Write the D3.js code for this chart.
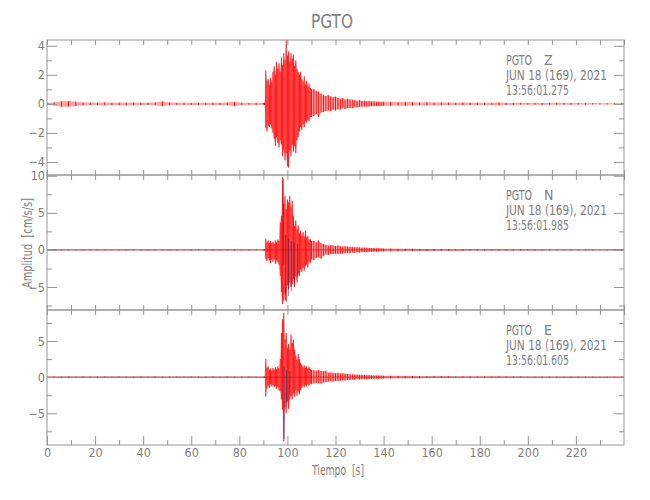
<!DOCTYPE html>
<html><head><meta charset="utf-8">
<script src="https://cdn.jsdelivr.net/npm/d3@7"></script>
<style>body{margin:0;background:#fff}</style></head>
<body>
<svg id="c" width="650" height="500"></svg>
<script>
// ---- data ----
const station = "PGTO";
const dateLabel = "JUN 18 (169), 2021";
const components = ["Z", "N", "E"];
const startTimes = ["13:56:01.275", "13:56:01.985", "13:56:01.605"];

const times = [
  0,3,6,9,12,15,18,21,24,27,30,33,36,39,42,45,48,51,54,57,60,63,66,69,72,75,78,81,84,87,90,
  90.5,91,91.5,92,92.5,93,93.5,94,94.5,95,95.5,96,96.5,97,97.5,98,98.5,99,99.5,100,
  100.5,101,101.5,102,102.5,103,103.5,104,104.5,105,105.5,106,106.5,107,107.5,108,108.5,109,109.5,110,
  111,112,113,114,115,116,117,118,119,120,121,122,123,124,125,126,127,128,129,130,
  131,132,133,134,135,136,137,138,139,140,
  143,146,149,152,155,158,161,164,167,170,173,176,179,182,185,188,191,194,197,200,
  203,206,209,212,215,218,221,224,227,230,233,236,239,240
];

const zMax = [
  .08,.1,.18,.2,.15,.1,.09,.08,.1,.08,.09,.08,.1,.07,.08,.1,.17,.09,.07,.08,.07,.08,.07,.08,.07,.09,.14,.08,.06,.07,.06,
  .08,2.3,1.6,1.7,1.3,1.8,1.5,2.2,2.6,2.0,2.9,2.4,2.8,2.2,3.2,2.7,3.5,3.0,4.4,3.3,
  3.6,2.9,3.5,3.1,3.4,2.6,3.0,2.4,2.2,2.0,2.2,1.7,1.5,1.9,1.3,1.6,1.2,1.4,1.1,1.0,
  1.0,0.9,0.85,0.7,0.6,0.55,0.6,0.5,0.45,0.5,0.4,0.35,0.4,0.3,0.35,0.3,0.28,0.25,0.22,0.25,
  0.2,0.22,0.18,0.2,0.17,0.18,0.15,0.16,0.14,0.15,
  .14,.12,.14,.12,.1,.11,.09,.1,.09,.08,.09,.08,.07,.08,.07,.1,.07,.06,.07,.06,
  .07,.06,.06,.07,.06,.06,.06,.05,.06,.05,.05,.05,.05,.05
];
const zMin = [
  -.08,-.11,-.2,-.19,-.14,-.1,-.08,-.09,-.1,-.08,-.09,-.09,-.1,-.08,-.08,-.1,-.16,-.09,-.07,-.08,-.08,-.08,-.07,-.08,-.07,-.09,-.15,-.08,-.06,-.07,-.06,
  -.08,-1.65,-1.9,-1.5,-1.6,-1.4,-1.7,-2.0,-2.4,-2.9,-2.3,-2.7,-3.0,-2.5,-2.8,-3.6,-3.2,-3.9,-3.4,-4.3,
  -4.4,-3.2,-3.6,-2.8,-3.3,-2.9,-3.4,-2.5,-2.3,-1.9,-1.6,-1.8,-1.4,-1.6,-1.2,-1.3,-1.1,-1.2,-0.9,-0.9,
  -0.85,-0.7,-0.9,-0.6,-0.55,-0.5,-0.45,-0.5,-0.4,-0.45,-0.35,-0.4,-0.3,-0.35,-0.3,-0.28,-0.3,-0.22,-0.25,-0.2,
  -0.2,-0.18,-0.2,-0.18,-0.16,-0.17,-0.15,-0.14,-0.15,-0.13,
  -.13,-.12,-.13,-.11,-.1,-.1,-.1,-.09,-.08,-.09,-.08,-.08,-.08,-.07,-.07,-.1,-.07,-.07,-.06,-.06,
  -.06,-.07,-.06,-.06,-.06,-.06,-.05,-.06,-.05,-.05,-.05,-.05,-.05,-.05
];

const nMax = [
  .06,.07,.06,.07,.06,.06,.07,.06,.06,.07,.06,.06,.07,.06,.06,.07,.06,.06,.07,.06,.06,.07,.06,.06,.07,.06,.07,.06,.06,.07,.06,
  .08,1.5,1.0,1.3,0.9,1.2,0.9,1.1,0.8,1.3,1.0,1.4,1.2,3.7,4.6,9.8,6.2,7.3,5.5,6.8,
  6.4,7.3,5.8,6.6,4.6,3.2,4.0,2.8,3.3,2.2,2.6,1.9,2.4,1.8,2.6,1.7,1.9,1.3,1.5,1.2,
  1.2,1.0,1.3,0.9,0.8,0.7,0.6,0.65,0.6,0.55,0.6,0.5,0.45,0.5,0.45,0.4,0.4,0.35,0.38,0.33,
  0.3,0.32,0.28,0.27,0.25,0.26,0.23,0.22,0.21,0.2,
  .19,.17,.16,.15,.14,.13,.12,.11,.11,.1,.1,.09,.09,.08,.08,.08,.08,.07,.07,.07,
  .07,.06,.07,.06,.06,.06,.06,.06,.06,.06,.06,.06,.06,.06
];
const nMin = [
  -.06,-.06,-.07,-.06,-.06,-.07,-.06,-.06,-.07,-.06,-.06,-.07,-.06,-.06,-.07,-.06,-.06,-.07,-.06,-.06,-.07,-.06,-.06,-.07,-.06,-.06,-.07,-.06,-.07,-.06,-.06,
  -.08,-1.2,-1.5,-1.1,-1.4,-1.8,-1.3,-1.6,-1.2,-1.9,-1.4,-1.7,-2.0,-3.5,-5.7,-7.3,-6.8,-5.8,-7.0,-4.8,
  -5.3,-4.4,-5.0,-4.6,-3.9,-5.0,-3.6,-4.4,-3.2,-3.5,-2.6,-3.0,-2.4,-2.8,-2.2,-2.0,-2.4,-1.6,-1.8,-1.3,
  -1.4,-1.1,-1.0,-1.2,-0.8,-0.6,-0.7,-0.55,-0.6,-0.5,-0.55,-0.5,-0.5,-0.45,-0.4,-0.45,-0.35,-0.4,-0.32,-0.35,
  -0.3,-0.28,-0.3,-0.26,-0.27,-0.24,-0.24,-0.22,-0.2,-0.21,
  -.18,-.17,-.15,-.15,-.13,-.13,-.12,-.12,-.1,-.1,-.1,-.09,-.09,-.09,-.08,-.08,-.07,-.08,-.07,-.07,
  -.07,-.07,-.06,-.06,-.06,-.06,-.06,-.06,-.06,-.06,-.06,-.06,-.06,-.06
];

const eMax = [
  .07,.08,.07,.08,.07,.08,.07,.07,.08,.07,.08,.07,.07,.08,.07,.08,.07,.07,.08,.07,.08,.07,.07,.08,.07,.08,.07,.07,.08,.07,.07,
  .08,2.5,1.3,1.5,1.0,1.2,0.9,1.3,1.0,1.4,1.1,1.5,1.2,2.5,6.1,8.0,8.9,5.2,6.1,4.0,
  4.6,3.8,5.9,4.7,5.2,3.8,3.0,2.4,3.2,2.5,2.0,1.7,1.4,1.6,1.3,1.5,1.2,1.4,1.1,1.0,
  0.95,0.9,1.0,0.85,0.8,0.9,0.6,0.65,0.6,0.55,0.6,0.5,0.55,0.5,0.45,0.4,0.38,0.35,0.35,0.32,
  0.3,0.3,0.28,0.27,0.25,0.24,0.23,0.22,0.21,0.2,
  .19,.18,.16,.15,.14,.13,.13,.12,.11,.1,.1,.1,.09,.09,.09,.08,.08,.08,.08,.07,
  .07,.07,.07,.07,.07,.07,.07,.07,.07,.07,.07,.07,.07,.07
];
const eMin = [
  -.07,-.07,-.08,-.07,-.08,-.07,-.07,-.08,-.07,-.08,-.07,-.07,-.08,-.07,-.08,-.07,-.07,-.08,-.07,-.08,-.07,-.07,-.08,-.07,-.08,-.07,-.07,-.08,-.07,-.08,-.07,
  -.08,-2.7,-1.6,-1.2,-1.5,-1.0,-1.3,-1.1,-1.4,-1.2,-1.6,-1.3,-1.8,-2.0,-3.1,-4.5,-8.9,-4.2,-5.0,-3.4,
  -4.4,-3.1,-2.6,-3.1,-2.2,-2.7,-1.9,-2.6,-2.0,-2.4,-1.8,-1.5,-1.2,-1.4,-1.1,-1.3,-1.0,-1.2,-0.9,-1.0,
  -0.85,-0.8,-0.85,-0.9,-0.75,-0.7,-0.6,-0.55,-0.6,-0.5,-0.55,-0.5,-0.45,-0.45,-0.4,-0.4,-0.35,-0.35,-0.3,-0.32,
  -0.3,-0.28,-0.28,-0.25,-0.25,-0.24,-0.22,-0.22,-0.2,-0.2,
  -.19,-.17,-.16,-.15,-.14,-.13,-.12,-.12,-.11,-.11,-.1,-.09,-.09,-.09,-.08,-.08,-.08,-.08,-.07,-.07,
  -.07,-.07,-.07,-.07,-.07,-.07,-.07,-.07,-.07,-.07,-.07,-.07,-.07,-.07
];

// dark (second) trace: a few visible excursions
const nDarkTime = [98.3, 99.2, 100.4, 101.6, 102.8, 104.2];
const nDarkHigh = [9.6, 2.0, 1.5, 1.2, 1.0, 0.8];
const nDarkLow  = [-2.0, -6.8, -6.2, -5.6, -4.8, -3.6];
const eDarkTime = [98.6, 99.6, 101.0];
const eDarkHigh = [1.5, 1.0, 0.8];
const eDarkLow  = [-8.6, -3.5, -2.5];

// axes
const xDomain = [0, 240];
const xMajor = [0,20,40,60,80,100,120,140,160,180,200,220];
const xMinor = [10,30,50,70,90,110,130,150,170,190,210,230];
const xAll = [0,10,20,30,40,50,60,70,80,90,100,110,120,130,140,150,160,170,180,190,200,210,220,230,240];
const zDomain = [-4.9, 4.4], zMajor = [-4,-2,0,2,4], zMinorT = [-3,-1,1,3];
const nDomain = [-8.1, 10.1], nMajor = [-5,0,5,10], nMinorT = [-7.5,-2.5,2.5,7.5];
const eDomain = [-9.4, 9.3], eMajor = [-5,0,5], eMinorT = [-7.5,-2.5,2.5,7.5];

[zMax,zMin,nMax,nMin,eMax,eMin].forEach((a,i)=>{ if(a.length!==times.length) throw new Error("length mismatch array "+i+": "+a.length+" vs "+times.length); });

// ---- drawing ----
const svg = d3.select("#c");
const FONT = "'Liberation Sans Narrow','DejaVu Sans Condensed','Roboto Condensed',sans-serif";
const GRAY = "#959595", TXT = "#808080";
const L = 47, R = 624, T = 40, B = 445;
const ph = (B - T) / 3;
const x = d3.scaleLinear().domain(xDomain).range([L, R]);

const panels = [
  {max:zMax, min:zMin, domain:zDomain, major:zMajor, minor:zMinorT, dark:null},
  {max:nMax, min:nMin, domain:nDomain, major:nMajor, minor:nMinorT, dark:[nDarkTime,nDarkHigh,nDarkLow]},
  {max:eMax, min:eMin, domain:eDomain, major:eMajor, minor:eMinorT, dark:[eDarkTime,eDarkHigh,eDarkLow]}
];

function styleAxis(g){
  g.select(".domain").remove();
  g.selectAll(".tick line").attr("stroke", GRAY).attr("stroke-width", 1);
  g.selectAll(".tick text").attr("fill", TXT).style("font-family", FONT).style("font-size", "12.5px");
}

panels.forEach((p, i) => {
  const y0 = T + i*ph, y1 = y0 + ph;
  const y = d3.scaleLinear().domain(p.domain).range([y1, y0]);
  const clipId = "clip" + i;
  svg.append("clipPath").attr("id", clipId).append("rect")
    .attr("x", L).attr("y", y0).attr("width", R - L).attr("height", ph);
  const g = svg.append("g").attr("clip-path", `url(#${clipId})`);

  if (p.dark) {
    g.append("line").attr("x1", x(xDomain[0])).attr("x2", x(xDomain[1]))
      .attr("y1", y(0)).attr("y2", y(0)).attr("stroke", "#5a2630").attr("stroke-width", 0.8);
  }
  const idx = d3.range(times.length);
  const area = d3.area().x(k => x(times[k])).y0(k => y(p.min[k])).y1(k => y(p.max[k]));
  g.append("path").attr("d", area(idx)).attr("fill", "rgba(255,50,50,0.45)");
  g.selectAll("line.s").data(idx).join("line").attr("class", "s")
    .attr("x1", k => x(times[k])).attr("x2", k => x(times[k]))
    .attr("y1", k => y(p.min[k])).attr("y2", k => y(p.max[k]))
    .attr("stroke", "#ff0000").attr("stroke-width", 0.9);

  if (p.dark) {
    const [dt, dh, dl] = p.dark;
    g.selectAll("line.d").data(dt).join("line").attr("class", "d")
      .attr("x1", t => x(t)).attr("x2", t => x(t))
      .attr("y1", (t, k) => y(dl[k])).attr("y2", (t, k) => y(dh[k]))
      .attr("stroke", "#202060").attr("stroke-width", 0.7).attr("opacity", 0.8);
  }

  // frame
  svg.append("rect").attr("x", L).attr("y", y0).attr("width", R - L).attr("height", ph)
    .attr("fill", "none").attr("stroke", GRAY).attr("stroke-width", 1);

  // y axes
  svg.append("g").attr("transform", `translate(${L},0)`)
    .call(d3.axisLeft(y).tickValues(p.major).tickSize(-10).tickPadding(2)).call(styleAxis);
  svg.append("g").attr("transform", `translate(${L},0)`)
    .call(d3.axisLeft(y).tickValues(p.minor).tickSize(-5).tickFormat("")).call(styleAxis);
  svg.append("g").attr("transform", `translate(${R},0)`)
    .call(d3.axisRight(y).tickValues(p.major).tickSize(-10).tickFormat("")).call(styleAxis);
  svg.append("g").attr("transform", `translate(${R},0)`)
    .call(d3.axisRight(y).tickValues(p.minor).tickSize(-5).tickFormat("")).call(styleAxis);

  // x ticks at top of panel
  svg.append("g").attr("transform", `translate(0,${y0})`)
    .call(d3.axisTop(x).tickValues(xAll).tickSize(-5).tickFormat("")).call(styleAxis);
  if (i < 2) {
    svg.append("g").attr("transform", `translate(0,${y1})`)
      .call(d3.axisBottom(x).tickValues(xAll).tickSize(-5).tickFormat("")).call(styleAxis);
  } else {
    svg.append("g").attr("transform", `translate(0,${y1})`)
      .call(d3.axisBottom(x).tickValues(xMajor).tickSize(-9).tickPadding(3).tickFormat(d3.format("d"))).call(styleAxis);
    svg.append("g").attr("transform", `translate(0,${y1})`)
      .call(d3.axisBottom(x).tickValues(xMinor).tickSize(-5).tickFormat("")).call(styleAxis);
  }

  // annotation
  const ann = svg.append("g").attr("fill", TXT).style("font-family", FONT).style("font-size", "14px");
  ann.append("text").attr("x", 506).attr("y", y0 + 25).attr("textLength", 26)
    .attr("lengthAdjust", "spacingAndGlyphs").text(station);
  ann.append("text").attr("x", 544).attr("y", y0 + 25).text(components[i]);
  ann.append("text").attr("x", 506).attr("y", y0 + 39.8).attr("textLength", 101)
    .attr("lengthAdjust", "spacingAndGlyphs").style("white-space", "pre").text(dateLabel);
  ann.append("text").attr("x", 506).attr("y", y0 + 54.6).attr("textLength", 63)
    .attr("lengthAdjust", "spacingAndGlyphs").text(startTimes[i]);
});

// titles
svg.append("text").attr("x", 332).attr("y", 28).attr("text-anchor", "middle")
  .attr("textLength", 42).attr("lengthAdjust", "spacingAndGlyphs")
  .attr("fill", TXT).style("font-family", FONT).style("font-size", "19px").text(station);
svg.append("text").attr("x", 338).attr("y", 475).attr("text-anchor", "middle")
  .attr("textLength", 52).attr("lengthAdjust", "spacingAndGlyphs")
  .attr("fill", TXT).style("font-family", FONT).style("font-size", "14px")
  .style("white-space", "pre").text("Tiempo  [s]");
svg.append("text").attr("transform", "translate(32,243) rotate(-90)").attr("text-anchor", "middle")
  .attr("textLength", 90).attr("lengthAdjust", "spacingAndGlyphs")
  .attr("fill", TXT).style("font-family", FONT).style("font-size", "14px")
  .style("white-space", "pre").text("Amplitud  [cm/s/s]");
</script>
</body></html>
